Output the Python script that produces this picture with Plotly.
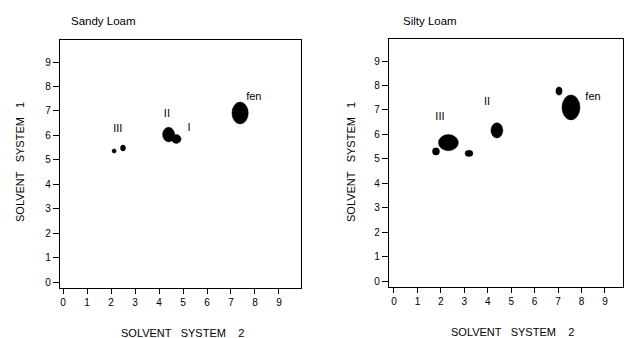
import plotly.graph_objects as go

W, H = 624, 338

# ---- data (Rf units) ----
panel_titles = ["Sandy Loam", "Silty Loam"]
tick_vals = [0, 1, 2, 3, 4, 5, 6, 7, 8, 9]

sandy_x = [2.13, 2.50, 4.40, 4.72, 7.38]
sandy_y = [5.36, 5.48, 6.03, 5.85, 6.91]
sandy_w = [0.17, 0.21, 0.50, 0.40, 0.68]
sandy_h = [0.17, 0.25, 0.60, 0.36, 0.90]
sandy_lbl = ["III", "II", "I", "fen"]
sandy_lbl_x = [2.28, 4.33, 5.25, 7.95]
sandy_lbl_y = [6.26, 6.87, 6.30, 7.57]

silty_x = [1.79, 2.32, 3.20, 4.39, 7.04, 7.55]
silty_y = [5.30, 5.66, 5.22, 6.16, 7.77, 7.10]
silty_w = [0.30, 0.85, 0.34, 0.51, 0.26, 0.77]
silty_h = [0.30, 0.66, 0.25, 0.62, 0.33, 1.02]
silty_lbl = ["III", "II", "fen"]
silty_lbl_x = [1.96, 3.97, 8.49]
silty_lbl_y = [6.71, 7.32, 7.53]

FONT = "Liberation Sans, Arial, sans-serif"

fig = go.Figure()

panels = [
    (sandy_x, sandy_y, sandy_w, sandy_h, sandy_lbl, sandy_lbl_x, sandy_lbl_y, "x", "y"),
    (silty_x, silty_y, silty_w, silty_h, silty_lbl, silty_lbl_x, silty_lbl_y, "x2", "y2"),
]
shapes = []
for xs, ys, ws, hs, lb, lx, ly, xa, ya in panels:
    fig.add_trace(go.Scatter(x=xs, y=ys, mode="markers", xaxis=xa, yaxis=ya,
                             marker=dict(color="black", size=3), showlegend=False,
                             hoverinfo="skip"))
    fig.add_trace(go.Scatter(x=lx, y=ly, mode="text", text=lb, xaxis=xa, yaxis=ya,
                             textfont=dict(family=FONT, size=11, color="black"),
                             showlegend=False, hoverinfo="skip"))
    for cx, cy, w, h in zip(xs, ys, ws, hs):
        shapes.append(dict(type="circle", xref=xa, yref=ya,
                           x0=cx - w / 2, x1=cx + w / 2, y0=cy - h / 2, y1=cy + h / 2,
                           fillcolor="black", line=dict(color="black", width=0.5)))

axis_common = dict(
    tickmode="array", tickvals=tick_vals, ticks="outside", tickwidth=1,
    tickcolor="black", showline=True, linecolor="black", linewidth=1.3, mirror=True,
    showgrid=False, zeroline=False,
    tickfont=dict(family=FONT, size=10, color="black"),
)

def px_x(p):
    return p / W

def px_y(p):
    return 1 - p / H

fig.update_layout(
    width=W, height=H, margin=dict(l=0, r=0, t=0, b=0),
    paper_bgcolor="white", plot_bgcolor="white",
    xaxis=dict(domain=[px_x(60), px_x(301)], range=[-0.125, 9.917], anchor="y", ticklen=5, **axis_common),
    yaxis=dict(domain=[px_y(288), px_y(40)], range=[-0.245, 9.9], anchor="x", ticklen=6, **axis_common),
    xaxis2=dict(domain=[px_x(389), px_x(623)], range=[-0.213, 9.77], anchor="y2", ticklen=5, **axis_common),
    yaxis2=dict(domain=[px_y(287), px_y(39)], range=[-0.245, 9.9], anchor="x2", ticklen=6, **axis_common),
    shapes=shapes,
)

ann = []
ann.append(dict(text=panel_titles[0], x=px_x(69), y=px_y(21), xanchor="left", yanchor="middle", size=11.5))
ann.append(dict(text=panel_titles[1], x=px_x(401), y=px_y(21), xanchor="left", yanchor="middle", size=11.5))
ann.append(dict(text="SOLVENT&nbsp;&nbsp;&nbsp;SYSTEM&nbsp;&nbsp;&nbsp;&nbsp;2", x=px_x(182), y=px_y(333), xanchor="center", yanchor="middle", size=11))
ann.append(dict(text="SOLVENT&nbsp;&nbsp;&nbsp;SYSTEM&nbsp;&nbsp;&nbsp;&nbsp;2", x=px_x(512), y=px_y(332), xanchor="center", yanchor="middle", size=11))
ann.append(dict(text="SOLVENT&nbsp;&nbsp;&nbsp;SYSTEM&nbsp;&nbsp;&nbsp;1", x=px_x(20), y=px_y(162), xanchor="center", yanchor="middle", textangle=-90, size=11))
ann.append(dict(text="SOLVENT&nbsp;&nbsp;&nbsp;SYSTEM&nbsp;&nbsp;&nbsp;1", x=px_x(351), y=px_y(162), xanchor="center", yanchor="middle", textangle=-90, size=11))
for a in ann:
    s = a.pop("size")
    a.update(xref="paper", yref="paper", showarrow=False,
             font=dict(family=FONT, size=s, color="black"))
fig.update_layout(annotations=ann)

fig.write_html("out.html", config={"displayModeBar": False},
               post_script="document.body.style.margin='0px';document.body.style.overflow='hidden';")
